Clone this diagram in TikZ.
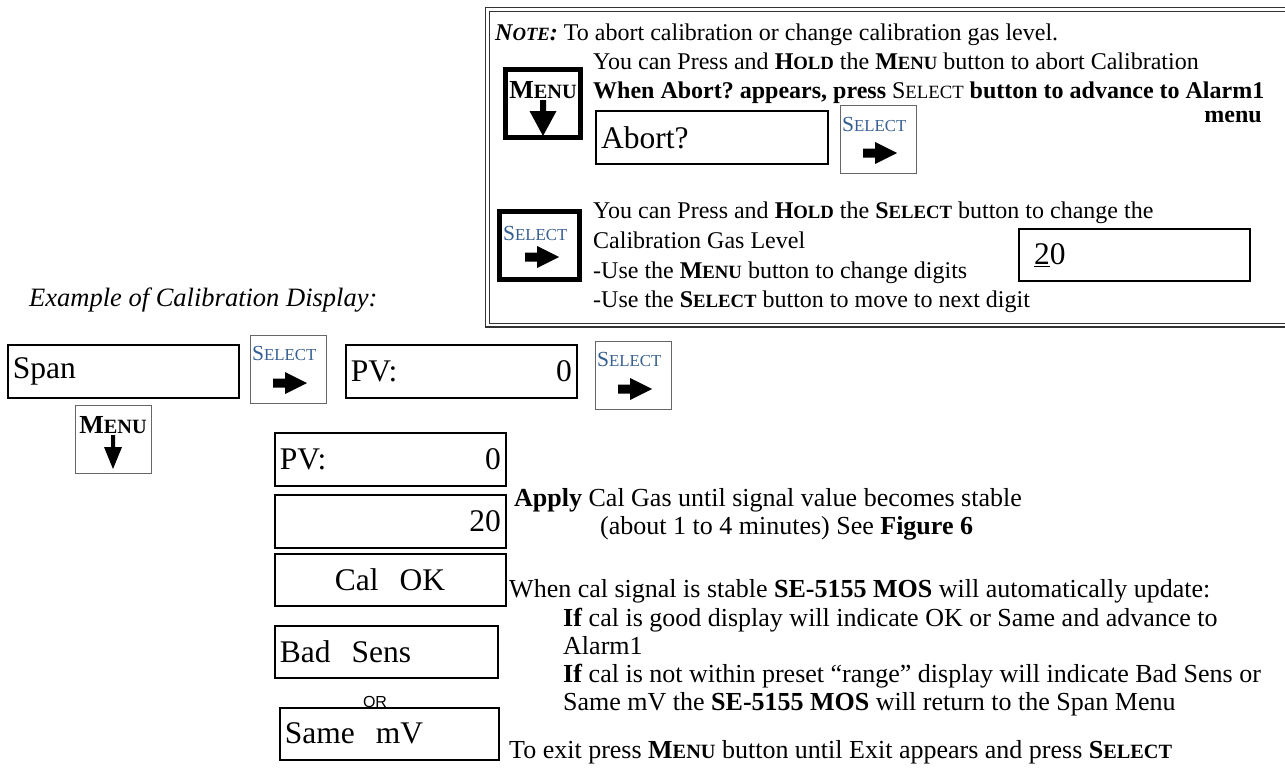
\documentclass[tikz,border=0pt]{standalone}
\usepackage{fontspec}
\setmainfont{Liberation Serif}
\newfontfamily\arialfont{Liberation Sans}
\usepackage{graphicx}
\definecolor{selblue}{RGB}{54,95,145}
\frenchspacing
\newcommand\bodysize{\fontsize{24}{28}\selectfont}
\newcommand\lowsize{\fontsize{26}{30}\selectfont}
\newcommand\dispsize{\fontsize{31.5}{34}\selectfont}
\newcommand\smc[2]{#1\scalebox{0.78}{#2}}
\begin{document}
\begin{tikzpicture}[x=1pt,y=-1pt,
  body/.style={anchor=base west, inner sep=0pt, font=\bodysize},
  lowbody/.style={anchor=base west, inner sep=0pt, font=\lowsize},
  disp/.style={draw, line width=1.6pt, anchor=north west, inner xsep=5pt, inner ysep=0pt, font=\dispsize, align=left},
  thinbtn/.style={draw=black!60, line width=0.9pt, minimum width=76pt, minimum height=68pt, anchor=north west, inner sep=0pt},
  thickbtn/.style={draw, line width=5pt, inner sep=0pt},
  sellbl/.style={anchor=west, inner sep=0pt, text=selblue, font=\fontsize{21.5}{21.5}\selectfont},
  menulbl/.style={anchor=center, inner sep=0pt, font=\bfseries\fontsize{26}{26}\selectfont},
  notebox/.style={draw=black!80},
  rarrowpic/.pic={\fill (-17,-4.5) -- (-5,-4.5) -- (-5,-11) -- (17,0) -- (-5,11) -- (-5,4.5) -- (-17,4.5) -- cycle;},
  bigdownpic/.pic={\fill (-3,0) -- (3,0) -- (3,11) -- (13.5,11) -- (0,36) -- (-13.5,11) -- (-3,11) -- cycle;},
  smalldownpic/.pic={\fill (-2,0) -- (2,0) -- (2,12) -- (9,12) -- (0,34) -- (-9,12) -- (-2,12) -- cycle;}
]
\fill[white] (0,0) rectangle (1285,768);
\useasboundingbox (0,0) rectangle (1285,768);

% ---------- note box ----------
\draw[notebox, line width=1.3pt] (485.5,7.5) rectangle (1300,327);
\draw[notebox, line width=0.9pt] (489,11) rectangle (1300,323.5);

\node[body] (note) at (495,41) {\textbf{\textit{\smc{N}{OTE}:}} To abort calibration or change calibration gas level.};
\node[body] (l1) at (593,70) {You can Press and \textbf{\smc{H}{OLD}} the \textbf{\smc{M}{ENU}} button to abort Calibration};
\node[body] (l2) at (593,99) {\textbf{When Abort? appears, press} \smc{S}{ELECT} \textbf{button to advance to Alarm1}};
\node[body, anchor=base east] (l3) at (1262,122) {\textbf{menu}};

\node[thickbtn, minimum width=75pt, minimum height=68pt] (menuthick) at (543,103.5) {};
\node[menulbl] (menuthicklbl) at (543,90) {\smc{M}{ENU}};
\pic at (543,100) {bigdownpic};

\node[disp, text width=222pt, minimum height=53pt, line width=2.2pt] (abort) at (595,110) {Abort?};

\node[thinbtn] (seltop) at (840,105) {};
\node[sellbl] (seltoplbl) at (842,124) {\smc{S}{ELECT}};
\pic at (880,153) {rarrowpic};

\node[thickbtn, minimum width=80pt, minimum height=68pt] (selthick) at (539.5,245.5) {};
\node[sellbl] (selthicklbl) at (503,233) {\smc{S}{ELECT}};
\pic at (542,257) {rarrowpic};

\node[body] (s1) at (593,218) {You can Press and \textbf{\smc{H}{OLD}} the \textbf{\smc{S}{ELECT}} button to change the};
\node[body] (s2) at (593,248) {Calibration Gas Level};
\node[body] (s3) at (593,278) {-Use the \textbf{\smc{M}{ENU}} button to change digits};
\node[body] (s4) at (593,307) {-Use the \textbf{\smc{S}{ELECT}} button to move to next digit};

\node[disp, text width=221pt, minimum height=52pt, line width=2pt] (cal20) at (1018,228) {\hspace*{10pt}\underline{2}0};

% ---------- example ----------
\node[body, font=\itshape\fontsize{26.5}{30}\selectfont] (example) at (29,306) {Example of Calibration Display:};

\node[disp, text width=221pt, minimum height=53pt] (span) at (7,344) {Span};
\node[thinbtn] (sel1) at (250,335) {};
\node[sellbl] (sel1lbl) at (252,353) {\smc{S}{ELECT}};
\pic at (290,383) {rarrowpic};

\node[disp, text width=221pt, minimum height=53pt] (pv1) at (345,344) {PV:\hfill 0\hspace*{31pt}};
\node[thinbtn] (sel2) at (595,341) {};
\node[sellbl] (sel2lbl) at (597,359) {\smc{S}{ELECT}};
\pic at (635,389) {rarrowpic};

\node[thinbtn] (menu1) at (75,405) {};
\node[menulbl] (menu1lbl) at (113,425) {\smc{M}{ENU}};
\pic at (113,435) {smalldownpic};

\node[disp, text width=221pt, minimum height=53pt] (pv2) at (274,432) {PV:\hfill 0\hspace*{30pt}};
\node[disp, text width=221pt, minimum height=53pt] (v20) at (274,494) {\mbox{}\hfill 20\hspace*{30pt}};
\node[disp, text width=221pt, minimum height=52pt] (calok) at (274,553) {\hspace*{55pt}Cal\ \ OK};
\node[disp, text width=213pt, minimum height=52pt] (bad) at (274,625) {Bad\ \ Sens};
\node[inner sep=0pt, font=\arialfont\fontsize{16}{16}\selectfont] (or) at (375,702) {OR};
\node[disp, text width=209pt, minimum height=52pt] (same) at (279,707) {Same\ \ mV};

% ---------- explanation ----------
\node[lowbody] (apply) at (514,506) {\textbf{Apply} Cal Gas until signal value becomes stable};
\node[lowbody] (about) at (600,534) {(about 1 to 4 minutes) See \textbf{Figure 6}};
\node[lowbody] (when) at (509,597) {When cal signal is stable \textbf{SE-5155 MOS} will automatically update:};
\node[lowbody] (ifgood) at (563,626) {\textbf{If} cal is good display will indicate OK or Same and advance to};
\node[lowbody] (alarm) at (563,654) {Alarm1};
\node[lowbody] (ifnot) at (563,682) {\textbf{If} cal is not within preset “range” display will indicate Bad Sens or};
\node[lowbody] (samemv) at (563,710) {Same mV the \textbf{SE-5155 MOS} will return to the Span Menu};
\node[lowbody] (exit) at (509,758) {To exit press \textbf{\smc{M}{ENU}} button until Exit appears and press \textbf{\smc{S}{ELECT}}};
\end{tikzpicture}
\end{document}
